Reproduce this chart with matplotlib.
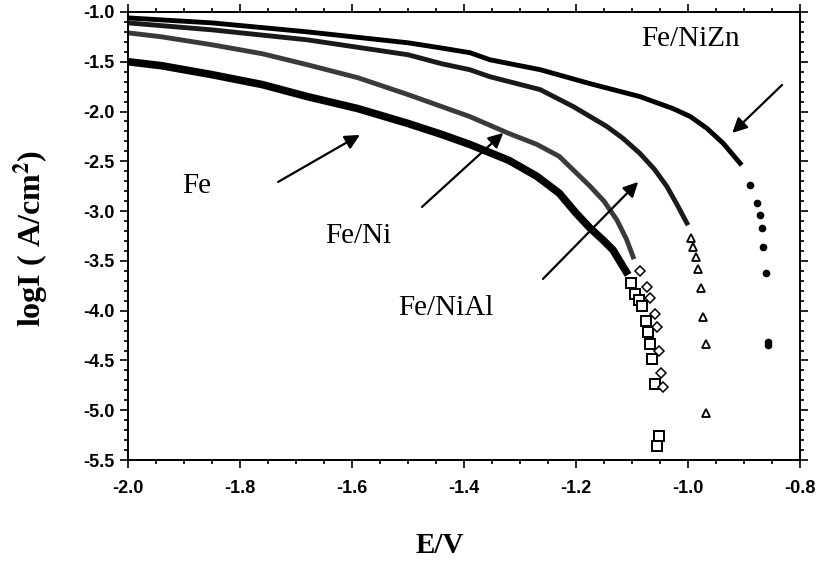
import matplotlib
matplotlib.use("Agg")
import matplotlib.pyplot as plt
from matplotlib.ticker import MultipleLocator, FormatStrFormatter

# polarization curves (E in V, logI in A/cm2)
fe_e = [-2.00, -1.94, -1.85, -1.76, -1.68, -1.59, -1.50, -1.44, -1.39, -1.32, -1.27, -1.23, -1.20, -1.175, -1.15, -1.134, -1.12, -1.107]
fe_i = [-1.50, -1.54, -1.63, -1.73, -1.85, -1.97, -2.12, -2.23, -2.33, -2.49, -2.65, -2.82, -3.02, -3.17, -3.30, -3.39, -3.52, -3.64]
fe_tail_e = [-1.102, -1.095, -1.087, -1.083, -1.075, -1.071, -1.068, -1.064, -1.059, -1.052, -1.056]
fe_tail_i = [-3.72, -3.83, -3.89, -3.95, -4.10, -4.21, -4.33, -4.49, -4.74, -5.26, -5.36]

ni_e = [-2.00, -1.94, -1.85, -1.76, -1.68, -1.59, -1.50, -1.44, -1.39, -1.32, -1.27, -1.23, -1.175, -1.15, -1.127, -1.11, -1.098]
ni_i = [-1.21, -1.25, -1.33, -1.42, -1.53, -1.66, -1.83, -1.95, -2.05, -2.22, -2.33, -2.45, -2.75, -2.90, -3.09, -3.28, -3.46]
ni_tail_e = [-1.086, -1.074, -1.067, -1.059, -1.056, -1.052, -1.049, -1.044]
ni_tail_i = [-3.60, -3.76, -3.87, -4.03, -4.16, -4.40, -4.63, -4.77]

al_e = [-2.00, -1.85, -1.68, -1.50, -1.44, -1.39, -1.354, -1.264, -1.205, -1.145, -1.116, -1.086, -1.06, -1.038, -1.02, -1.002]
al_i = [-1.11, -1.18, -1.28, -1.43, -1.52, -1.58, -1.65, -1.78, -1.95, -2.15, -2.27, -2.42, -2.58, -2.75, -2.93, -3.12]
al_tail_e = [-0.995, -0.991, -0.985, -0.982, -0.976, -0.973, -0.967, -0.968]
al_tail_i = [-3.27, -3.36, -3.46, -3.58, -3.77, -4.06, -4.33, -5.03]

zn_e = [-2.00, -1.85, -1.68, -1.50, -1.443, -1.389, -1.354, -1.264, -1.175, -1.086, -1.027, -0.996, -0.966, -0.937, -0.907]
zn_i = [-1.06, -1.11, -1.20, -1.31, -1.36, -1.41, -1.48, -1.58, -1.72, -1.85, -1.97, -2.05, -2.17, -2.32, -2.52]
zn_tail_e = [-0.889, -0.877, -0.871, -0.868, -0.866, -0.861, -0.857, -0.857]
zn_tail_i = [-2.74, -2.92, -3.04, -3.17, -3.36, -3.62, -4.31, -4.34]

labels = ["Fe", "Fe/Ni", "Fe/NiAl", "Fe/NiZn"]
label_pos = [(-1.877, -2.75), (-1.589, -3.25), (-1.432, -3.97), (-0.995, -1.27)]
arrow_tail = [(-1.732, -2.707), (-1.475, -2.958), (-1.259, -3.681), (-0.832, -1.733)]
arrow_head = [(-1.586, -2.235), (-1.330, -2.215), (-1.089, -2.707), (-0.921, -2.215)]

plt.rcParams["mathtext.fontset"] = "stix"

fig = plt.figure(figsize=(8.18, 5.68), dpi=100)
ax = fig.add_axes([0.1565, 0.190, 0.8215, 0.789])

ax.plot(fe_e, fe_i, color="black", lw=5.5, solid_capstyle="butt")
ax.plot(ni_e, ni_i, color="#3a3a3a", lw=3.5)
ax.plot(al_e, al_i, color="#1a1a1a", lw=3.5)
ax.plot(zn_e, zn_i, color="black", lw=3.5)

ax.plot(fe_tail_e, fe_tail_i, ls="none", marker="s", ms=6.5, mfc="white", mec="black", mew=1.4)
ax.plot(ni_tail_e, ni_tail_i, ls="none", marker="D", ms=5.5, mfc="white", mec="black", mew=1.1)
ax.plot(al_tail_e, al_tail_i, ls="none", marker="^", ms=6, mfc="white", mec="black", mew=1.3)
ax.plot(zn_tail_e, zn_tail_i, ls="none", marker="o", ms=4.5, mfc="black", mec="black")

for txt, pos in zip(labels, label_pos):
    ax.text(pos[0], pos[1], txt, family="Liberation Serif", fontsize=21, ha="center", va="center")
for t, h in zip(arrow_tail, arrow_head):
    ax.annotate("", xy=h, xytext=t,
                arrowprops=dict(arrowstyle="-|>", lw=1.6, color="black", mutation_scale=22, shrinkA=0, shrinkB=0))

ax.set_xlim(-2.0, -0.8)
ax.set_ylim(-5.5, -1.0)
ax.xaxis.set_major_locator(MultipleLocator(0.2))
ax.xaxis.set_minor_locator(MultipleLocator(0.05))
ax.yaxis.set_major_locator(MultipleLocator(0.5))
ax.yaxis.set_minor_locator(MultipleLocator(0.1))
ax.tick_params(which="both", direction="out", top=True, right=True, width=1.2)
ax.tick_params(which="major", length=6)
ax.tick_params(which="minor", length=3)
ax.tick_params(axis="x", pad=8)
ax.xaxis.set_major_formatter(FormatStrFormatter("%.1f"))
ax.yaxis.set_major_formatter(FormatStrFormatter("%.1f"))
for lab in ax.get_xticklabels() + ax.get_yticklabels():
    lab.set_family("Liberation Sans")
    lab.set_fontweight("bold")
    lab.set_fontsize(13)
for sp in ax.spines.values():
    sp.set_linewidth(1.4)

fig.text(0.038, 0.58, r"logI ( A/cm$^\mathbf{2}$)", rotation=90, family="Liberation Serif",
         fontweight="bold", fontsize=23, ha="center", va="center")
fig.text(0.538, 0.04, "E/V", family="Liberation Serif", fontweight="bold", fontsize=21,
         ha="center", va="center")

fig.savefig("out.png", dpi=100)
